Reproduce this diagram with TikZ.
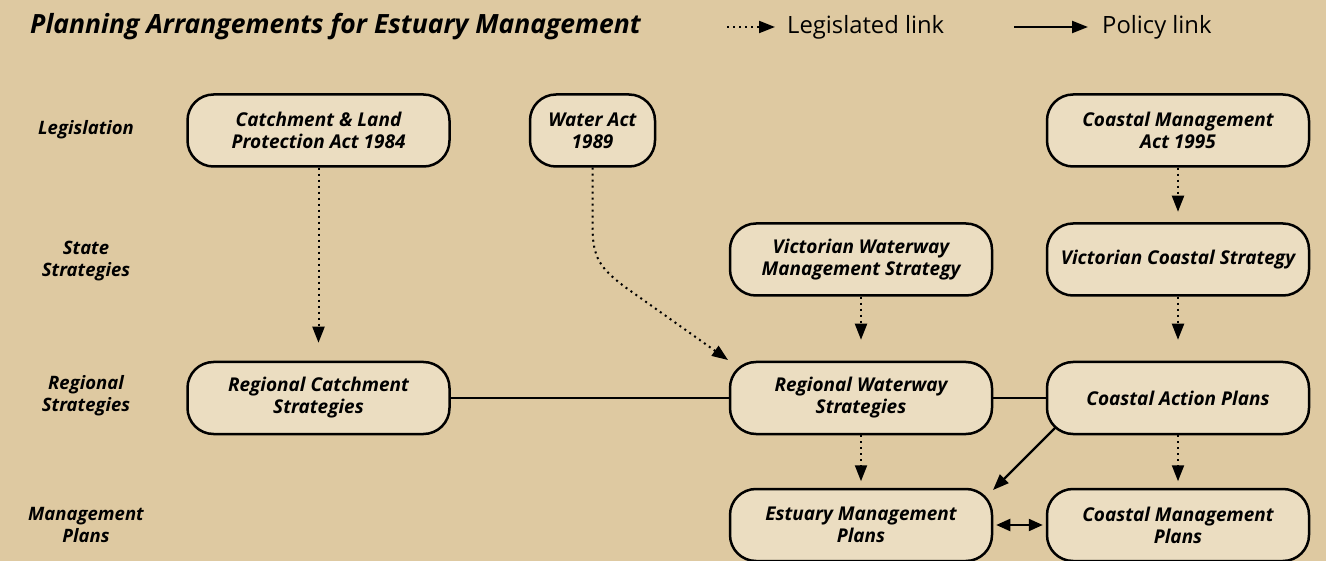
\documentclass[tikz,border=0pt]{standalone}
\usepackage{fontspec}
\setmainfont{Open Sans}
\usetikzlibrary{arrows.meta}
\definecolor{bgc}{RGB}{222,201,161}
\definecolor{boxc}{RGB}{235,221,193}
\begin{document}
\begin{tikzpicture}[x=1pt,y=-1pt,
  box/.style={draw=black, line width=2.5pt, fill=boxc, rounded corners=26pt,
    minimum width=262pt, minimum height=72pt, align=center, inner sep=0pt,
    font=\fontsize{19}{22}\selectfont\bfseries\itshape},
  lvl/.style={align=center, font=\fontsize{18.5}{22}\selectfont\bfseries\itshape},
  legis/.style={line width=2pt, dash pattern=on 2pt off 4pt, -{Triangle[length=16pt,width=12pt]}},
  policy/.style={line width=2.2pt, -{Triangle[length=16pt,width=12pt]}},
  plain/.style={line width=2.2pt}]
\fill[bgc] (0,0) rectangle (1326,561);
\useasboundingbox (0,0) rectangle (1326,561);
% title and legend
\node[anchor=west, inner sep=0pt, font=\fontsize{26.5}{30}\selectfont\bfseries\itshape] (title) at (30,27) {Planning Arrangements for Estuary Management};
\coordinate (l1a) at (727,27);
\coordinate (l1b) at (775,27);
\draw[legis] (l1a) -- (l1b);
\node[anchor=west, inner sep=0pt, font=\fontsize{23.8}{28}\selectfont] (leg1) at (787,27) {Legislated link};
\coordinate (l2a) at (1014,27);
\coordinate (l2b) at (1088,27);
\draw[policy] (l2a) -- (l2b);
\node[anchor=west, inner sep=0pt, font=\fontsize{23.8}{28}\selectfont] (leg2) at (1102,27) {Policy link};
% level labels
\node[lvl] (lv1) at (86,130) {Legislation};
\node[lvl] (lv2) at (86,261) {State\\Strategies};
\node[lvl] (lv3) at (86,396) {Regional\\Strategies};
\node[lvl] (lv4) at (86,525) {Management\\Plans};
% boxes
\node[box] (cla) at (318.5,130.5) {Catchment \& Land\\Protection Act 1984};
\node[box, minimum width=125pt] (wa) at (592.5,130.5) {Water Act\\1989};
\node[box] (cma) at (1178,130.5) {Coastal Management\\Act 1995};
\node[box] (vws) at (861,259.5) {Victorian Waterway\\Management Strategy};
\node[box] (vcs) at (1178,259.5) {Victorian Coastal Strategy};
\node[box] (rcs) at (318.5,398) {Regional Catchment\\Strategies};
\node[box] (rws) at (861,398) {Regional Waterway\\Strategies};
\node[box] (cap) at (1178,398) {Coastal Action Plans};
\node[box] (emp) at (861,525) {Estuary Management\\Plans};
\node[box] (cmp) at (1178,525) {Coastal Management\\Plans};
% connectors
\draw[legis] (cla.south) -- ++(0,175);
\coordinate (watip) at (728,360);
\draw[legis] (wa.south) -- ++(0,58) .. controls (592.5,258) and (600,268) .. (625,287) -- (watip);
\draw[legis] (cma.south) -- ++(0,44);
\draw[legis] (vws.south) -- ++(0,43);
\draw[legis] (vcs.south) -- ++(0,43);
\draw[legis] (rws.south) -- ++(0,46);
\draw[legis] (cap.south) -- ++(0,46);
\draw[plain] (rcs.east) -- (rws.west);
\draw[plain] (rws.east) -- (cap.west);
\coordinate (caps) at (1056,427);
\coordinate (capt) at (993,490);
\draw[policy] (caps) -- (capt);
\draw[line width=2.2pt, {Triangle[length=14pt,width=12pt]}-{Triangle[length=14pt,width=12pt]}] ([xshift=3pt]emp.east) -- ([xshift=-3pt]cmp.west);
\end{tikzpicture}
\end{document}
